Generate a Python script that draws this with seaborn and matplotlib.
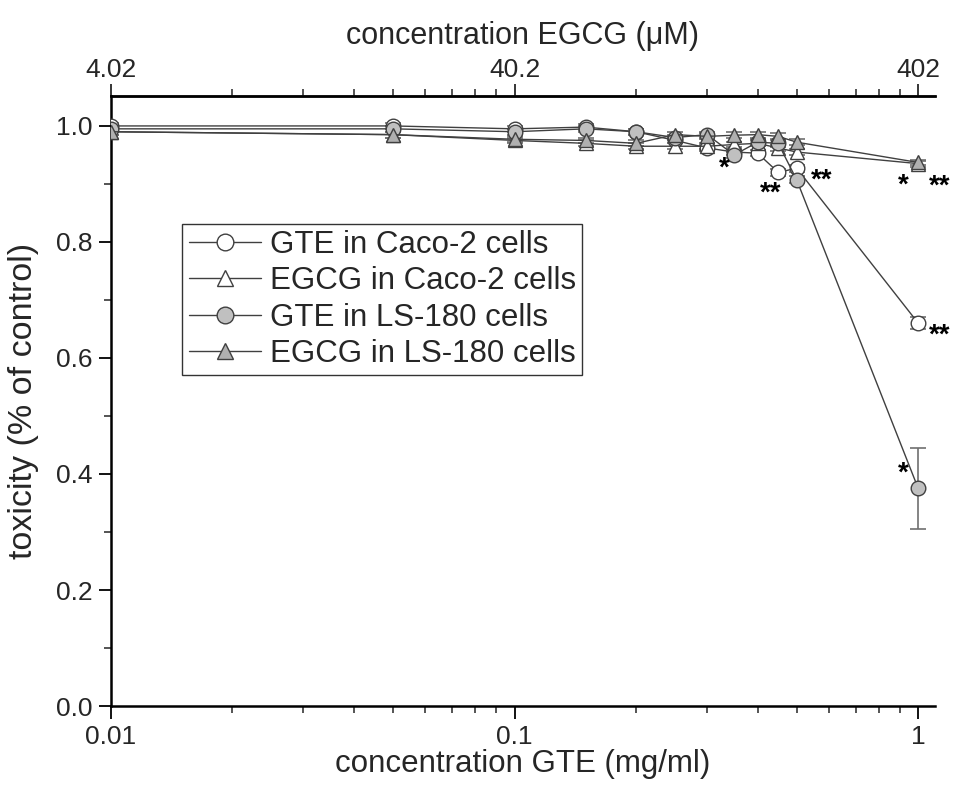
import numpy as np
import pandas as pd
import matplotlib
matplotlib.use("Agg")
import matplotlib.pyplot as plt
import matplotlib.ticker as mticker
from matplotlib.lines import Line2D
import seaborn as sns

# ---- data ----
conc_gte = [0.01, 0.05, 0.1, 0.15, 0.2, 0.25, 0.3, 0.35, 0.4, 0.45, 0.5, 1.0]
gte_caco2 = [1.00, 1.00, 0.995, 0.998, 0.99, 0.975, 0.962, 0.955, 0.953, 0.92, 0.927, 0.66]
gte_caco2_err = [0.005, 0.005, 0.005, 0.005, 0.005, 0.005, 0.005, 0.005, 0.005, 0.006, 0.006, 0.01]
gte_ls180 = [0.995, 0.995, 0.99, 0.995, 0.99, 0.98, 0.985, 0.95, 0.972, 0.97, 0.907, 0.375]
gte_ls180_err = [0.005, 0.005, 0.005, 0.005, 0.005, 0.005, 0.005, 0.005, 0.005, 0.006, 0.006, 0.07]
egcg_caco2 = [0.99, 0.985, 0.975, 0.97, 0.965, 0.965, 0.965, 0.968, 0.97, 0.962, 0.955, 0.935]
egcg_caco2_err = [0.005] * 12
egcg_ls180 = [0.99, 0.985, 0.977, 0.975, 0.97, 0.985, 0.982, 0.984, 0.985, 0.982, 0.972, 0.937]
egcg_ls180_err = [0.005] * 12

labels = ["GTE in Caco-2 cells", "EGCG in Caco-2 cells",
          "GTE in LS-180 cells", "EGCG in LS-180 cells"]
top_ticks = [4.02, 40.2, 402]
top_tick_labels = ["4.02", "40.2", "402"]
y_ticks = [0.0, 0.2, 0.4, 0.6, 0.8, 1.0]

# significance marks: (x, y, text)
sig_x = [0.33, 0.43, 0.575, 0.92, 1.13, 1.13, 0.92]
sig_y = [0.926, 0.883, 0.905, 0.897, 0.895, 0.638, 0.40]
sig_t = ["*", "**", "**", "*", "**", "**", "*"]

# ---- style ----
sns.set_style("ticks")
plt.rcParams["font.family"] = ["Liberation Sans", "DejaVu Sans"]

fig = plt.figure(figsize=(9.55, 7.85), dpi=100)
ax = fig.add_axes([0.116, 0.1006, 0.863, 0.7774])

series = [
    (gte_caco2, gte_caco2_err, "o", "white"),
    (egcg_caco2, egcg_caco2_err, "^", "white"),
    (gte_ls180, gte_ls180_err, "o", "#c0c0c0"),
    (egcg_ls180, egcg_ls180_err, "^", "#b0b0b0"),
]

line_col = "#404040"
edge_col = "#404040"
handles = []
for (vals, errs, mk, fc), lab in zip(series, labels):
    df = pd.DataFrame({"x": conc_gte, "y": vals})
    ax.errorbar(conc_gte, vals, yerr=errs, fmt="none", ecolor="#707070",
                elinewidth=1.2, capsize=6, capthick=1.2, zorder=2)
    sns.lineplot(data=df, x="x", y="y", ax=ax, color=line_col, linewidth=1.0,
                 marker=mk, markersize=10.5, markerfacecolor=fc,
                 markeredgecolor=edge_col, markeredgewidth=1.0, zorder=3)
    handles.append(Line2D([0], [0], color=line_col, linewidth=1.0, marker=mk,
                          markersize=12, markerfacecolor=fc,
                          markeredgecolor=edge_col, markeredgewidth=1.0))

for sx, sy, st in zip(sig_x, sig_y, sig_t):
    ax.text(sx, sy, st, fontsize=20, fontweight="bold", ha="center",
            va="center", color="black", clip_on=False)

ax.set_xscale("log")
ax.set_xlim(0.01, 1.1)
ax.set_ylim(0.0, 1.052)
ax.xaxis.set_major_locator(mticker.FixedLocator([0.01, 0.1, 1]))
ax.xaxis.set_major_formatter(mticker.FixedFormatter(["0.01", "0.1", "1"]))
ax.xaxis.set_minor_locator(mticker.LogLocator(base=10, subs=np.arange(2, 10)))
ax.xaxis.set_minor_formatter(mticker.NullFormatter())
ax.set_yticks(y_ticks)
ax.set_yticklabels([f"{v:.1f}" for v in y_ticks])
ax.yaxis.set_minor_locator(mticker.MultipleLocator(0.1))

ax.set_xlabel("concentration GTE (mg/ml)", fontsize=22.5, labelpad=0)
ax.set_ylabel("toxicity (% of control)", fontsize=24.5, labelpad=12)

ax.tick_params(axis="both", which="major", labelsize=19, length=9,
               width=1.3, direction="out", color="black", pad=4)
ax.tick_params(axis="x", which="major", pad=5)
ax.tick_params(axis="both", which="minor", length=5, width=1.1, direction="out")

for side in ["left", "bottom", "top"]:
    ax.spines[side].set_visible(True)
    ax.spines[side].set_linewidth(1.8)
    ax.spines[side].set_color("black")
ax.spines["right"].set_visible(False)

sec = ax.secondary_xaxis("top", functions=(lambda x: x * 402.0, lambda x: x / 402.0))
sec.set_xscale("log")
sec.xaxis.set_major_locator(mticker.FixedLocator(top_ticks))
sec.xaxis.set_major_formatter(mticker.FixedFormatter(top_tick_labels))
minor_top = [402 * m * d for d in (0.01, 0.1) for m in range(2, 10)]
sec.xaxis.set_minor_locator(mticker.FixedLocator(minor_top))
sec.xaxis.set_minor_formatter(mticker.NullFormatter())
sec.tick_params(axis="x", which="major", labelsize=19, length=9, width=1.3,
                direction="out", pad=1)
sec.tick_params(axis="x", which="minor", length=5, width=1.1, direction="out")
sec.spines["top"].set_linewidth(1.8)
sec.set_xlabel("concentration EGCG (\u03bcM)", fontsize=22, labelpad=10)

leg = ax.legend(handles, labels, loc="upper left",
                bbox_to_anchor=(0.087, 0.79), fontsize=22.5, frameon=True,
                fancybox=False, edgecolor="black", handlelength=2.3,
                handletextpad=0.3, borderpad=0.2, labelspacing=0.2,
                borderaxespad=0)
leg.get_frame().set_linewidth(1.0)

fig.savefig("out.png", dpi=100)
